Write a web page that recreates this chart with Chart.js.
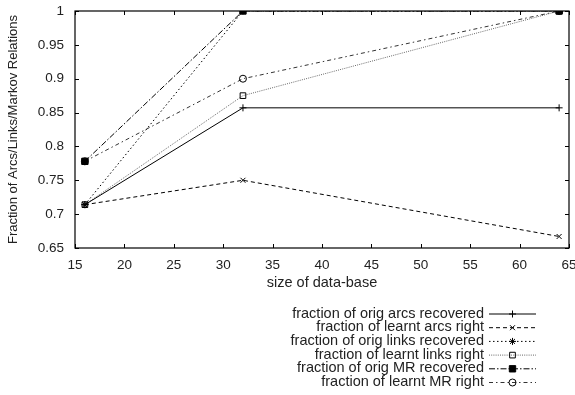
<!DOCTYPE html>
<html>
<head>
<meta charset="utf-8">
<script src="https://cdn.jsdelivr.net/npm/chart.js@4/dist/chart.umd.min.js"></script>
<style>
  html, body { margin: 0; padding: 0; background: #fff; }
  #wrap { width: 575px; height: 395px; }
</style>
</head>
<body>
<div id="wrap"><canvas id="myChart" width="575" height="395"></canvas></div>
<script>
const sizes = [16, 32, 64];
const origArcs = [0.714, 0.857, 0.857];
const learntArcs = [0.714, 0.75, 0.667];
const origLinks = [0.714, 1.0, 1.0];
const learntLinks = [0.714, 0.875, 1.0];
const origMR = [0.778, 1.0, 1.0];
const learntMR = [0.778, 0.9, 1.0];

const seriesLabels = [
  "fraction of orig arcs recovered",
  "fraction of learnt arcs right",
  "fraction of orig links recovered",
  "fraction of learnt links right",
  "fraction of orig MR recovered",
  "fraction of learnt MR right",
];

const FONT = "'Liberation Sans', Arial, sans-serif";

const toPoints = (arr) => arr.map((v, i) => ({ x: sizes[i], y: v }));

const styles = [
  { color: "#000", dash: [], point: "cross", fill: false, radius: 3.5 },
  { color: "#000", dash: [4, 3], point: "crossRot", fill: false, radius: 3.5 },
  { color: "#000", dash: [1.5, 2.5], point: "star", fill: false, radius: 3.5 },
  { color: "#666", dash: [1, 1.2], point: "rect", fill: false, radius: 4 },
  { color: "#000", dash: [6, 2, 1.5, 2], point: "rect", fill: true, radius: 4.5 },
  { color: "#333", dash: [4, 3, 1.5, 3], point: "circle", fill: false, radius: 3.5 },
];

const allData = [origArcs, learntArcs, origLinks, learntLinks, origMR, learntMR];

const datasets = allData.map((arr, i) => ({
  label: seriesLabels[i],
  data: toPoints(arr),
  borderColor: styles[i].color,
  borderWidth: 1,
  borderDash: styles[i].dash,
  pointStyle: styles[i].point,
  pointRadius: styles[i].radius,
  pointBorderWidth: 1,
  pointBorderColor: "#000",
  pointBackgroundColor: styles[i].fill ? "#000" : "rgba(0,0,0,0)",
  tension: 0,
  fill: false,
}));

// inward tick marks on all four sides (gnuplot style)
const innerTicks = {
  id: "innerTicks",
  afterDraw(chart) {
    const ctx = chart.ctx;
    const a = chart.chartArea;
    const xs = chart.scales.x, ys = chart.scales.y;
    const len = 4;
    ctx.save();
    ctx.strokeStyle = "#000";
    ctx.lineWidth = 1;
    ctx.beginPath();
    xs.ticks.forEach((t) => {
      const px = Math.round(xs.getPixelForValue(t.value)) + 0.5;
      ctx.moveTo(px, a.bottom); ctx.lineTo(px, a.bottom - len);
      ctx.moveTo(px, a.top); ctx.lineTo(px, a.top + len);
    });
    ys.ticks.forEach((t) => {
      const py = Math.round(ys.getPixelForValue(t.value)) + 0.5;
      ctx.moveTo(a.left, py); ctx.lineTo(a.left + len, py);
      ctx.moveTo(a.right, py); ctx.lineTo(a.right - len, py);
    });
    ctx.stroke();
    ctx.lineWidth = 1.2;
    ctx.strokeRect(a.left, a.top, a.right - a.left, a.bottom - a.top);
    ctx.restore();
  },
};

// gnuplot-like key: text right aligned, then line sample with marker
const keyBox = {
  id: "keyBox",
  afterDraw(chart) {
    const ctx = chart.ctx;
    const textRight = 484, lx0 = 489, lx1 = 536, top = 313.5, step = 13.7;
    ctx.save();
    ctx.font = "14.5px " + FONT;
    ctx.textAlign = "right";
    ctx.textBaseline = "middle";
    chart.data.datasets.forEach((ds, i) => {
      const y = top + i * step;
      ctx.fillStyle = "#222";
      ctx.fillText(ds.label, textRight, y);
      ctx.strokeStyle = ds.borderColor;
      ctx.lineWidth = 1;
      ctx.setLineDash(ds.borderDash);
      ctx.beginPath();
      ctx.moveTo(lx0, y + 0.5); ctx.lineTo(lx1, y + 0.5);
      ctx.stroke();
      ctx.setLineDash([]);
      ctx.strokeStyle = "#000";
      ctx.fillStyle = ds.pointBackgroundColor;
      Chart.helpers.drawPoint(ctx, {
        pointStyle: ds.pointStyle,
        radius: ds.pointRadius,
        rotation: 0,
        borderWidth: 1,
      }, (lx0 + lx1) / 2, y + 0.5);
    });
    ctx.restore();
  },
};

new Chart(document.getElementById("myChart").getContext("2d"), {
  type: "line",
  data: { datasets },
  plugins: [innerTicks, keyBox],
  options: {
    responsive: false,
    animation: false,
    layout: { padding: { left: 0, right: 6, top: 11, bottom: 0 } },
    plugins: { legend: { display: false }, tooltip: { enabled: false } },
    scales: {
      x: {
        type: "linear",
        min: 15,
        max: 65,
        border: { display: false },
        grid: { display: false },
        ticks: {
          stepSize: 5,
          color: "#222",
          padding: 1,
          maxRotation: 0,
          font: { family: FONT, size: 13.5 },
        },
        title: {
          display: true,
          text: "size of data-base",
          color: "#222",
          font: { family: FONT, size: 14.5 },
          padding: { top: 6, bottom: 103 },
        },
        afterFit(scale) {
          scale.height = 147;
          scale.paddingLeft = 0;
          scale.paddingRight = 0;
        },
      },
      y: {
        min: 0.65,
        max: 1,
        border: { display: false },
        grid: { display: false },
        ticks: {
          stepSize: 0.05,
          color: "#222",
          padding: 3,
          font: { family: FONT, size: 13.5 },
          callback: (v) => String(+v.toFixed(2)),
        },
        title: {
          display: true,
          text: "Fraction of Arcs/Links/Markov Relations",
          color: "#222",
          font: { family: FONT, size: 13 },
          padding: { top: 6, bottom: 0 },
        },
        afterFit(scale) {
          scale.width = 75;
          scale.paddingTop = 0;
          scale.paddingBottom = 0;
        },
      },
    },
  },
});
</script>
</body>
</html>
